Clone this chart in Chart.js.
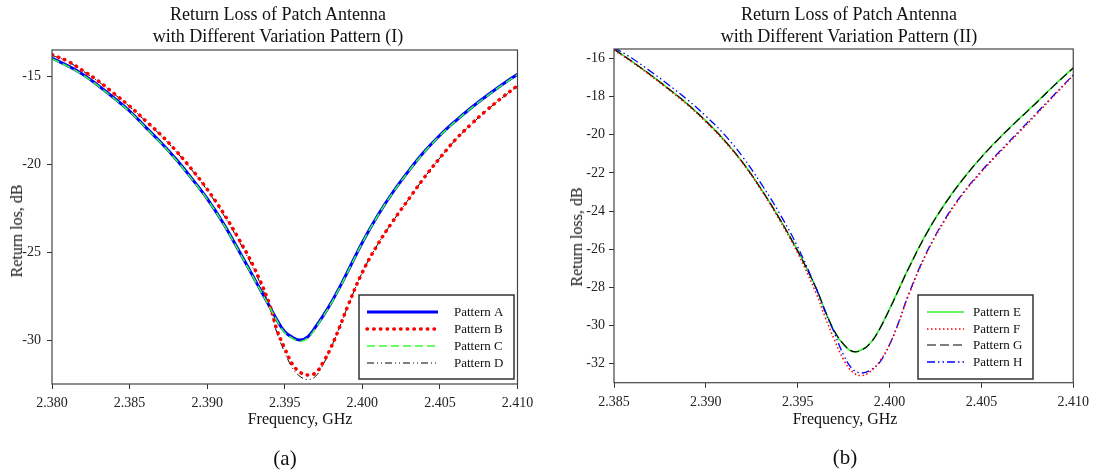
<!DOCTYPE html>
<html>
<head>
<meta charset="utf-8">
<script src="https://cdn.jsdelivr.net/npm/chart.js@4.4.0/dist/chart.umd.min.js"></script>
<style>
  body { margin: 0; background: #fff; }
  #page {
    position: relative;
    width: 1095px;
    height: 472px;
    overflow: hidden;
    font-family: "Liberation Serif", "Times New Roman", serif;
    color: #111;
  }
  canvas { position: absolute; top: 0; }
  .txt { position: absolute; white-space: nowrap; transform: translate(-50%, -50%); }
  .title { font-size: 18px; }
  .axis { font-size: 16px; }
  .ytitle { transform: translate(-50%, -50%) rotate(-90deg); }
  .tag { font-size: 21px; }
</style>
</head>
<body>
<div id="page">
  <canvas id="chartI" width="545" height="472" style="left:0"></canvas>
  <canvas id="chartII" width="550" height="472" style="left:545px"></canvas>

  <div class="txt title" style="left:278px; top:14px">Return Loss of Patch Antenna</div>
  <div class="txt title" style="left:278px; top:36px">with Different Variation Pattern (I)</div>
  <div class="txt title" style="left:849px; top:14px">Return Loss of Patch Antenna</div>
  <div class="txt title" style="left:849px; top:36px">with Different Variation Pattern (II)</div>

  <div class="txt axis ytitle" style="left:17px; top:231px">Return los, dB</div>
  <div class="txt axis ytitle" style="left:577px; top:237px">Return loss, dB</div>

  <div class="txt axis" style="left:300px; top:419px">Frequency, GHz</div>
  <div class="txt axis" style="left:845px; top:419px">Frequency, GHz</div>

  <div class="txt tag" style="left:285px; top:458px">(a)</div>
  <div class="txt tag" style="left:845px; top:457px">(b)</div>
</div>

<script>
// ---- data, panel (a) ----
const freqI = [2.380, 2.381, 2.382, 2.383, 2.384, 2.385, 2.386, 2.387, 2.388, 2.389,
  2.390, 2.391, 2.392, 2.393, 2.394, 2.3945, 2.395, 2.3955, 2.396, 2.3965,
  2.397, 2.3975, 2.398, 2.3985, 2.399, 2.400, 2.401, 2.402, 2.403, 2.404,
  2.405, 2.406, 2.407, 2.408, 2.409, 2.410];

const patternA = [-13.96, -14.39, -14.89, -15.53, -16.23, -16.97, -17.86, -18.75, -19.72, -20.8,
  -21.95, -23.3, -24.85, -26.45, -28.05, -28.86, -29.53, -29.85, -30.0, -29.8,
  -29.24, -28.58, -27.86, -27.06, -26.2, -24.45, -22.9, -21.55, -20.36, -19.28,
  -18.35, -17.54, -16.8, -16.12, -15.48, -14.88];

const patternB = [-13.77, -14.13, -14.68, -15.27, -15.98, -16.69, -17.5, -18.31, -19.24, -20.28,
  -21.42, -22.71, -24.19, -25.83, -27.92, -29.43, -30.47, -31.38, -31.84, -31.99,
  -31.86, -31.23, -30.38, -29.34, -28.2, -26.15, -24.55, -23.2, -21.97, -20.75,
  -19.64, -18.6, -17.73, -16.93, -16.21, -15.53];

const patternC = [-14.0, -14.42, -14.92, -15.56, -16.26, -17.0, -17.89, -18.78, -19.75, -20.83,
  -21.98, -23.33, -24.88, -26.48, -28.09, -28.9, -29.58, -29.9, -30.08, -29.87,
  -29.3, -28.62, -27.9, -27.09, -26.23, -24.47, -22.92, -21.57, -20.38, -19.3,
  -18.37, -17.56, -16.82, -16.14, -15.5, -14.9];

const patternD = [-13.8, -14.15, -14.7, -15.3, -16.0, -16.72, -17.52, -18.35, -19.28, -20.32,
  -21.48, -22.8, -24.3, -25.98, -28.05, -29.6, -30.7, -31.6, -32.08, -32.25,
  -32.05, -31.35, -30.4, -29.35, -28.22, -26.15, -24.55, -23.2, -21.97, -20.75,
  -19.64, -18.62, -17.75, -16.95, -16.23, -15.55];

const xTicksI = [2.380, 2.385, 2.390, 2.395, 2.400, 2.405, 2.410];
const yTicksI = [-30, -25, -20, -15];

// ---- data, panel (b) ----
const freqII = [2.385, 2.386, 2.387, 2.388, 2.389, 2.390, 2.391, 2.392, 2.393, 2.394,
  2.395, 2.396, 2.3965, 2.397, 2.3975, 2.398, 2.3985, 2.399, 2.3995, 2.400,
  2.4005, 2.401, 2.402, 2.403, 2.404, 2.405, 2.406, 2.407, 2.408, 2.409, 2.410];

const patternE = [-15.5, -16.16, -16.86, -17.6, -18.38, -19.27, -20.27, -21.44, -22.82, -24.37,
  -26.08, -28.02, -29.25, -30.32, -31.0, -31.38, -31.26, -30.86, -30.1, -29.13,
  -28.1, -27.06, -25.18, -23.63, -22.31, -21.16, -20.14, -19.2, -18.3, -17.36, -16.48];

const patternF = [-15.55, -16.2, -16.9, -17.65, -18.43, -19.32, -20.32, -21.48, -22.88, -24.45,
  -26.2, -28.3, -29.58, -30.75, -31.8, -32.45, -32.62, -32.38, -31.83, -31.0,
  -29.85, -28.5, -26.25, -24.5, -23.1, -21.95, -20.92, -19.92, -18.92, -17.9, -16.88];

const patternG = [-15.51, -16.17, -16.87, -17.61, -18.39, -19.28, -20.28, -21.45, -22.83, -24.38,
  -26.1, -28.04, -29.25, -30.3, -30.98, -31.36, -31.28, -30.88, -30.12, -29.15,
  -28.12, -27.08, -25.2, -23.65, -22.33, -21.18, -20.16, -19.22, -18.32, -17.38, -16.5];

const patternH = [-15.42, -16.0, -16.68, -17.4, -18.16, -19.02, -19.98, -21.15, -22.55, -24.1,
  -25.88, -28.05, -29.28, -30.4, -31.55, -32.3, -32.49, -32.32, -31.88, -31.0,
  -29.82, -28.45, -26.2, -24.45, -23.05, -21.9, -20.86, -19.86, -18.86, -17.86, -16.86];

const xTicksII = [2.385, 2.390, 2.395, 2.400, 2.405, 2.410];
const yTicksII = [-32, -30, -28, -26, -24, -22, -20, -18, -16];

const FONT = '"Liberation Serif", "Times New Roman", serif';

function pairs(xs, ys) {
  return xs.map((x, i) => ({ x: x, y: ys[i] }));
}

// box around the plotting area
const frameBox = {
  id: "frameBox",
  afterDatasetsDraw(chart) {
    const a = chart.chartArea;
    const ctx = chart.ctx;
    ctx.save();
    ctx.strokeStyle = "#444";
    ctx.lineWidth = 1.2;
    ctx.strokeRect(a.left, a.top, a.right - a.left, a.bottom - a.top);
    ctx.restore();
  },
};

// legend inside the plot, drawn with each dataset's own stroke
const boxLegend = {
  id: "boxLegend",
  afterDraw(chart, args, opts) {
    const ctx = chart.ctx;
    ctx.save();
    ctx.fillStyle = "#fff";
    ctx.fillRect(opts.x, opts.y, opts.w, opts.h);
    ctx.strokeStyle = "#333";
    ctx.lineWidth = 1.5;
    ctx.strokeRect(opts.x, opts.y, opts.w, opts.h);
    chart.data.datasets.forEach((ds, i) => {
      const y = opts.rows[i];
      ctx.save();
      ctx.strokeStyle = ds.borderColor;
      ctx.lineWidth = ds.borderWidth;
      ctx.lineCap = ds.borderCapStyle || "butt";
      ctx.setLineDash(ds.borderDash || []);
      ctx.beginPath();
      ctx.moveTo(opts.x1, y);
      ctx.lineTo(opts.x2, y);
      ctx.stroke();
      ctx.restore();
      ctx.fillStyle = "#111";
      ctx.font = "13px " + FONT;
      ctx.textBaseline = "middle";
      ctx.fillText(ds.label, opts.tx, y + 1);
    });
    ctx.restore();
  },
};

function axes(xmin, xmax, ymin, ymax, xTicks, yTicks, yWidth, yPad) {
  return {
    x: {
      type: "linear",
      min: xmin,
      max: xmax,
      afterBuildTicks: (axis) => { axis.ticks = xTicks.map((v) => ({ value: v })); },
      afterFit: (axis) => { axis.height = 40; },
      ticks: {
        callback: (v) => Number(v).toFixed(3),
        font: { family: FONT, size: 14 },
        color: "#222",
        padding: 6,
        maxRotation: 0,
        autoSkip: false,
      },
      grid: { drawOnChartArea: false, drawTicks: true, tickLength: 5, color: "#333" },
      border: { display: false },
    },
    y: {
      type: "linear",
      min: ymin,
      max: ymax,
      afterBuildTicks: (axis) => { axis.ticks = yTicks.map((v) => ({ value: v })); },
      afterFit: (axis) => { axis.width = yWidth; },
      ticks: {
        font: { family: FONT, size: 14 },
        color: "#222",
        padding: yPad,
        autoSkip: false,
      },
      grid: { drawOnChartArea: false, drawTicks: true, tickLength: 5, color: "#333" },
      border: { display: false },
    },
  };
}

function lineSet(label, xs, ys, style) {
  return Object.assign({
    label: label,
    data: pairs(xs, ys),
    pointRadius: 0,
    fill: false,
    tension: 0.4,
  }, style);
}

document.addEventListener("DOMContentLoaded", function () {
  // Panel (a)
  new Chart(document.getElementById("chartI"), {
    type: "line",
    data: {
      datasets: [
        lineSet("Pattern A", freqI, patternA, { borderColor: "#0000ff", borderWidth: 3, order: 3 }),
        lineSet("Pattern B", freqI, patternB, {
          borderColor: "#ff0000", borderWidth: 3.5, borderDash: [0.5, 6.2], borderCapStyle: "round", order: 1,
        }),
        lineSet("Pattern C", freqI, patternC, { borderColor: "#33ff33", borderWidth: 1.5, borderDash: [8, 4], order: 0 }),
        lineSet("Pattern D", freqI, patternD, { borderColor: "#000000", borderWidth: 1, borderDash: [7, 3, 1, 3, 1, 3], order: 2 }),
      ],
    },
    options: {
      responsive: false,
      animation: false,
      layout: { padding: { left: 0, top: 50, right: 27.5, bottom: 48 } },
      plugins: {
        legend: { display: false },
        tooltip: { enabled: false },
        boxLegend: { x: 359, y: 295, w: 155, h: 84, x1: 367, x2: 438, tx: 454, rows: [312, 329, 346, 363] },
      },
      scales: axes(2.38, 2.41, -32.5, -13.5, xTicksI, yTicksI, 52, 6),
    },
    plugins: [frameBox, boxLegend],
  });

  // Panel (b)
  new Chart(document.getElementById("chartII"), {
    type: "line",
    data: {
      datasets: [
        lineSet("Pattern E", freqII, patternE, { borderColor: "#33ee33", borderWidth: 1.6, order: 3 }),
        lineSet("Pattern F", freqII, patternF, { borderColor: "#ff0000", borderWidth: 1.5, borderDash: [1.5, 2.5], order: 0 }),
        lineSet("Pattern G", freqII, patternG, { borderColor: "#000000", borderWidth: 1.2, borderDash: [9, 4], order: 2 }),
        lineSet("Pattern H", freqII, patternH, { borderColor: "#0000ff", borderWidth: 1.3, borderDash: [8, 3, 1.5, 3, 1.5, 3], order: 1 }),
      ],
    },
    options: {
      responsive: false,
      animation: false,
      layout: { padding: { left: 0, top: 49, right: 17.5, bottom: 49.3 } },
      plugins: {
        legend: { display: false },
        tooltip: { enabled: false },
        boxLegend: { x: 373, y: 295, w: 115, h: 84, x1: 382, x2: 419, tx: 428, rows: [312, 329, 345, 362] },
      },
      scales: axes(2.385, 2.41, -33, -15.5, xTicksII, yTicksII, 69, 4),
    },
    plugins: [frameBox, boxLegend],
  });
});
</script>
</body>
</html>
